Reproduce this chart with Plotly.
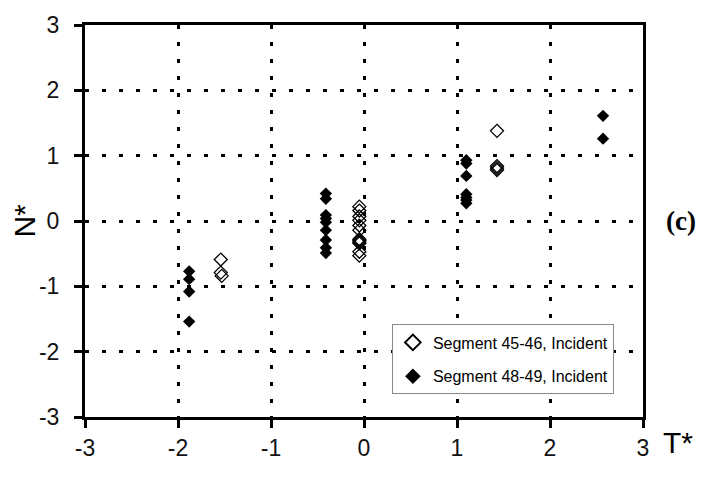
import plotly.graph_objects as go

# Segment 45-46, Incident (open diamonds)
t_45_46 = [-1.54, -1.54, -1.53,
           -0.05, -0.05, -0.05, -0.05, -0.05, -0.05, -0.05, -0.05, -0.05, -0.05, -0.05, -0.05,
           1.43, 1.43, 1.43, 1.43]
n_45_46 = [-0.59, -0.79, -0.84,
           0.22, 0.16, 0.07, 0.01, -0.07, -0.14, -0.28, -0.30, -0.32, -0.34, -0.47, -0.53,
           1.38, 0.78, 0.81, 0.84]

# Segment 48-49, Incident (filled diamonds)
t_48_49 = [-1.88, -1.88, -1.88, -1.88,
           -0.41, -0.41, -0.41, -0.41, -0.41, -0.41, -0.41, -0.41, -0.41,
           1.10, 1.10, 1.10, 1.10, 1.10, 1.10, 1.10,
           2.57, 2.57]
n_48_49 = [-0.77, -0.89, -1.08, -1.54,
           0.42, 0.34, 0.09, 0.04, -0.02, -0.14, -0.29, -0.41, -0.49,
           0.93, 0.88, 0.69, 0.41, 0.36, 0.32, 0.27,
           1.61, 1.26]

ticks = [-3, -2, -1, 0, 1, 2, 3]
tick_text = ["-3", "-2", "-1", "0", "1", "2", "3"]

SANS = "Liberation Sans, Arial"

fig = go.Figure()
fig.add_trace(go.Scatter(
    x=t_45_46, y=n_45_46, mode="markers", name="Segment 45-46, Incident",
    legendgroup="a",
    marker=dict(symbol="diamond-open", size=10, color="black", line=dict(width=1.3, color="black")),
))
fig.add_trace(go.Scatter(
    x=t_48_49, y=n_48_49, mode="markers", name="Segment 48-49, Incident",
    legendgroup="b",
    marker=dict(symbol="diamond", size=9.5, color="black"),
))

axis_common = dict(
    range=[-3, 3], tickvals=ticks, ticktext=tick_text,
    showline=True, linecolor="black", linewidth=3, mirror=True,
    ticks="outside", ticklen=8, tickwidth=2.5, tickcolor="black",
    showgrid=True, gridcolor="black", gridwidth=3, griddash="4px,13px",
    zeroline=False,
    tickfont=dict(family=SANS, size=23, color="#111"),
)
fig.update_xaxes(**axis_common)
fig.update_yaxes(**axis_common, ticklabelstandoff=10)

fig.update_layout(
    width=704, height=477,
    margin=dict(l=85, r=61, t=14, b=60),
    plot_bgcolor="white", paper_bgcolor="white",
    font=dict(family=SANS, color="black"),
    legend=dict(
        x=0.55, y=0.236, xanchor="left", yanchor="top",
        bgcolor="white", bordercolor="#888", borderwidth=1,
        font=dict(family=SANS, size=16, color="black"),
        tracegroupgap=10, itemsizing="constant",
    ),
    annotations=[
        dict(text="N*", xref="paper", yref="paper", x=-0.11, y=0.5,
             textangle=-90, showarrow=False, xanchor="center", yanchor="middle",
             font=dict(family=SANS, size=30, color="black")),
        dict(text="T*", xref="paper", yref="paper", x=1.063, y=-0.065,
             showarrow=False, xanchor="center", yanchor="middle",
             font=dict(family=SANS, size=30, color="black")),
        dict(text="<b>(c)</b>", xref="paper", yref="paper", x=1.068, y=0.5,
             showarrow=False, xanchor="center", yanchor="middle",
             font=dict(family="Liberation Serif, Times New Roman", size=27, color="black")),
    ],
)

fig.write_html("out.html")
